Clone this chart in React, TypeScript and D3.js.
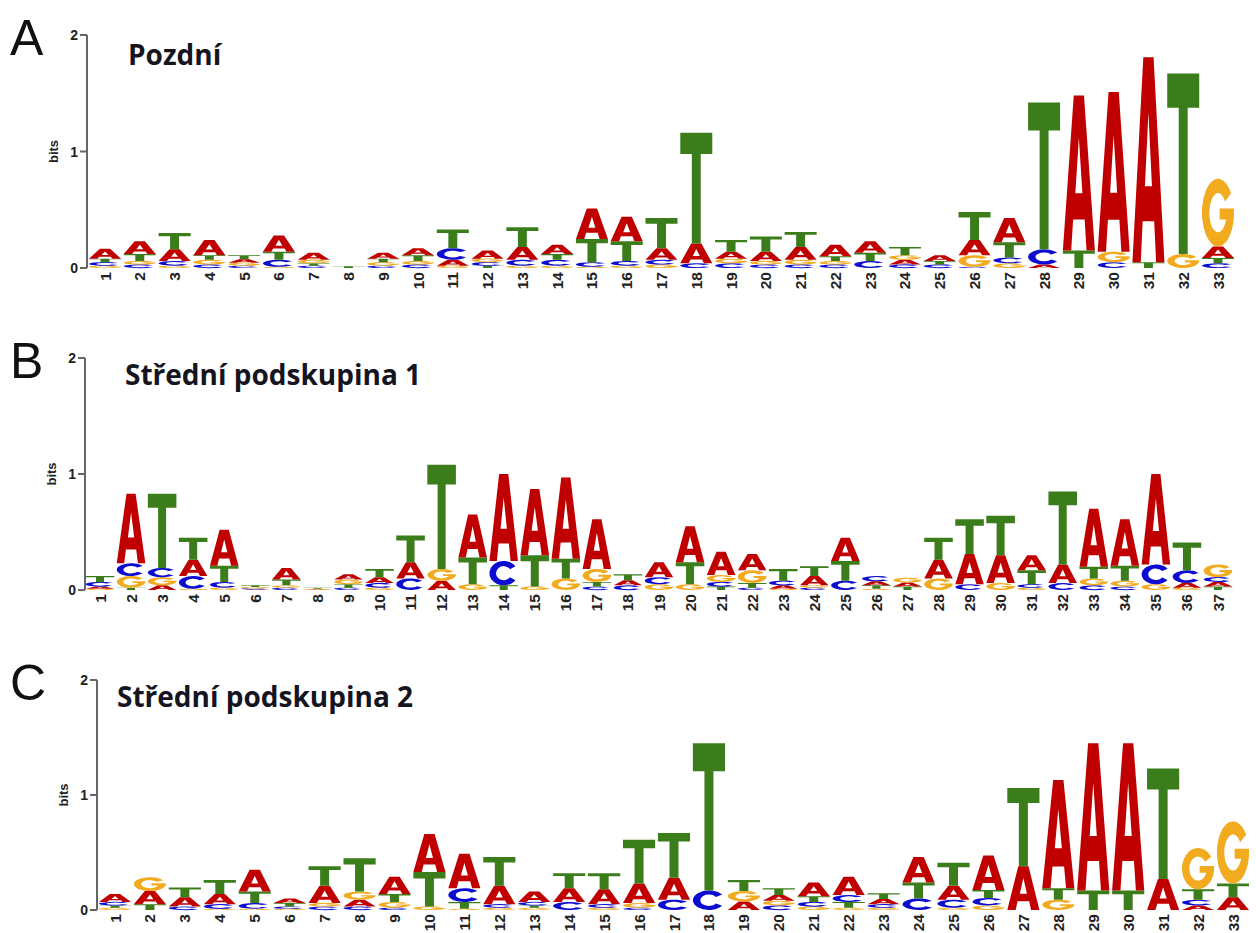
import React, { useEffect } from "react";
import * as d3 from "d3";

// ---------- data ----------
const posA = [1,2,3,4,5,6,7,8,9,10,11,12,13,14,15,16,17,18,19,20,21,22,23,24,25,26,27,28,29,30,31,32,33];
const aA = [.085,.11,.10,.13,.03,.14,.06,0,.05,.06,.05,.07,.11,.08,.26,.21,.10,.17,.06,.08,.11,.10,.10,.04,.05,.13,.21,.03,1.33,1.37,1.76,0,.10];
const cA = [.03,.03,.04,.03,.02,.06,.02,0,.02,.03,.10,.03,.05,.05,.04,.04,.04,.04,.04,.03,.03,.03,.06,.03,.03,.01,.05,.13,0,.05,0,0,.04];
const gA = [.02,.03,.02,.04,.025,.01,.03,0,.03,.03,.02,.03,.02,.02,.01,.02,.03,0,.04,.03,.04,.03,0,.04,0,.10,.04,0,0,.09,0,.12,.58];
const tA = [.03,.06,.14,.04,.035,.07,.02,.015,.03,.05,.16,.02,.17,.05,.20,.17,.26,.95,.10,.13,.13,.04,.07,.07,.03,.24,.13,1.26,.15,0,.05,1.55,.045];

const posB = [1,2,3,4,5,6,7,8,9,10,11,12,13,14,15,16,17,18,19,20,21,22,23,24,25,26,27,28,29,30,31,32,33,34,35,36,37];
const aB = [.02,.60,.04,.14,.31,.005,.10,.005,.045,.05,.14,.08,.37,.75,.57,.70,.43,.045,.13,.31,.20,.14,.03,.08,.20,.035,.035,.16,.26,.24,.13,.16,.50,.40,.78,.04,.04];
const cB = [.04,.11,.08,.11,.05,.01,.02,0,.02,.04,.10,0,0,.21,0,0,.03,.04,.06,0,.04,.02,.04,.02,.08,.045,0,0,.05,0,.03,.06,.04,.03,.17,.11,.04];
const gB = [.01,.10,.07,.01,.02,.01,.02,.005,.04,.02,0,.10,.05,0,.03,.10,.11,0,.05,.05,.06,.11,.01,.02,0,.01,.04,.10,0,.06,.02,0,.06,.05,.05,.02,.11];
const tB = [.05,.02,.64,.19,.14,.015,.05,.01,.03,.07,.23,.90,.23,.04,.27,.17,.04,.05,0,.19,.03,.04,.10,.085,.17,.03,.03,.19,.30,.34,.12,.63,.10,.13,0,.24,.03];

const posC = [1,2,3,4,5,6,7,8,9,10,11,12,13,14,15,16,17,18,19,20,21,22,23,24,25,26,27,28,29,30,31,32,33];
const aC = [.07,.115,.08,.09,.19,.04,.15,.06,.15,.33,.30,.16,.09,.12,.13,.17,.19,0,.075,.05,.12,.16,.045,.22,.12,.30,.38,.94,1.28,1.28,.27,.04,.11];
const cC = [.03,0,.03,.04,.05,.02,.03,.03,.02,0,.12,.03,.03,.07,.03,.02,.09,.17,0,.04,.04,.06,.03,.10,.07,.065,0,0,0,0,0,.05,0];
const gC = [.02,.12,0,.01,.01,.01,.03,.07,.05,.03,.01,.02,.02,0,.02,.04,0,0,.09,.04,.03,.02,.02,0,.02,.04,0,.09,0,0,0,.36,.54];
const tC = [.02,.05,.085,.12,.10,.03,.17,.29,.07,.30,.06,.25,.02,.13,.14,.38,.39,1.28,.095,.06,.05,.05,.05,.14,.20,.07,.68,.10,.17,.17,.96,.09,.12];

const yTicks = [0, 1, 2];
const titles = ["Pozdní", "Střední podskupina 1", "Střední podskupina 2"];
const panelLabels = ["A", "B", "C"];

// ---------- glyphs (100x100 box) ----------
const GLYPHS: Record<string, string> = {
  A: "M0,100 L34,0 L66,0 L100,100 L74,100 L68,80 L32,80 L26,100 Z M39,63 L61,63 L50,27 Z",
  T: "M0,0 H100 V19 H64 V100 H36 V19 H0 Z",
  C: "M90.96,21.32 A50,50 0 1 0 90.96,78.68 L72.1,66.6 A27,29 0 1 1 72.1,33.4 Z",
  G: "M90.96,21.32 A50,50 0 1 0 99.7,55.2 V44 H55 V60 H75.3 A27,29 0 1 1 72.1,33.4 Z",
};
const COLORS: Record<string, string> = {
  A: "#c00000",
  C: "#0c0cd0",
  G: "#f2aa1e",
  T: "#3b7d1b",
};

type PanelProps = {
  label: string;
  title: string;
  positions: number[];
  a: number[]; c: number[]; g: number[]; t: number[];
  axisX: number; y2: number; y0: number; first: number; last: number;
  titleX: number; titleY: number;
};

const SANS = "'Liberation Sans', Arial, Helvetica, sans-serif";

function Panel(p: PanelProps) {
  const y = d3.scaleLinear().domain([0, 2]).range([p.y0, p.y2]);
  const n = p.positions.length;
  const step = (p.last - p.first) / (n - 1);
  const x = d3
    .scaleBand<string>()
    .domain(p.positions.map(String))
    .range([p.first - step / 2, p.last + step / 2])
    .paddingInner(0.08)
    .paddingOuter(0.04);
  const bw = x.bandwidth();
  const letters: React.ReactNode[] = [];
  p.positions.forEach((pos, i) => {
    const stack = [
      { l: "A", h: p.a[i] },
      { l: "C", h: p.c[i] },
      { l: "G", h: p.g[i] },
      { l: "T", h: p.t[i] },
    ]
      .filter((d) => d.h > 0)
      .sort((u, v) => u.h - v.h);
    let cum = 0;
    const x0 = x(String(pos)) as number;
    stack.forEach((d) => {
      const top = y(cum + d.h);
      const hpx = y(cum) - top;
      cum += d.h;
      letters.push(
        <path
          key={`${pos}-${d.l}`}
          d={GLYPHS[d.l]}
          fill={COLORS[d.l]}
          fillRule="evenodd"
          transform={`translate(${x0},${top}) scale(${bw / 100},${hpx / 100})`}
        />
      );
    });
  });

  return (
    <g>
      <text x={10} y={p.y2 + 20} fontFamily={SANS} fontSize={50} fill="#111">
        {p.label}
      </text>
      <text
        x={p.titleX}
        y={p.titleY}
        fontFamily="'Open Sans', Lato, sans-serif"
        fontWeight={700}
        fontSize={28}
        fill="#15151f"
      >
        {p.title}
      </text>
      <line x1={p.axisX} x2={p.axisX} y1={y(2)} y2={y(0)} stroke="#666" strokeWidth={2} />
      {yTicks.map((tk) => (
        <g key={tk}>
          <line x1={p.axisX - 7} x2={p.axisX} y1={y(tk)} y2={y(tk)} stroke="#666" strokeWidth={2} />
          <text
            x={p.axisX - 9}
            y={y(tk)}
            dy="0.36em"
            textAnchor="end"
            fontFamily={SANS}
            fontWeight={700}
            fontSize={14}
            fill="#222"
          >
            {tk}
          </text>
        </g>
      ))}
      <text
        transform={`translate(${p.axisX - 29},${y(1)}) rotate(-90)`}
        textAnchor="middle"
        fontFamily={SANS}
        fontWeight={700}
        fontSize={13}
        fill="#222"
      >
        bits
      </text>
      {letters}
      {p.positions.map((pos) => {
        const cx = (x(String(pos)) as number) + bw / 2;
        return (
          <text
            key={`lbl-${pos}`}
            transform={`translate(${cx},${p.y0 + 4}) rotate(-90)`}
            textAnchor="end"
            dominantBaseline="central"
            fontFamily={SANS}
            fontWeight={700}
            fontSize={15.5}
            fill="#222"
          >
            {pos}
          </text>
        );
      })}
    </g>
  );
}

export default function App() {
  useEffect(() => {
    document.body.style.margin = "0";
  }, []);
  return (
    <svg width={1256} height={933} style={{ display: "block", background: "#fff" }}>
      <Panel label={panelLabels[0]} title={titles[0]} positions={posA} a={aA} c={cA} g={gA} t={tA}
        axisX={87} y2={35} y0={268} first={105} last={1218} titleX={128} titleY={65} />
      <Panel label={panelLabels[1]} title={titles[1]} positions={posB} a={aB} c={cB} g={gB} t={tB}
        axisX={85} y2={358} y0={590} first={100} last={1218} titleX={125} titleY={385} />
      <Panel label={panelLabels[2]} title={titles[2]} positions={posC} a={aC} c={cC} g={gC} t={tC}
        axisX={97} y2={680} y0={910} first={115} last={1233} titleX={117} titleY={707} />
    </svg>
  );
}
